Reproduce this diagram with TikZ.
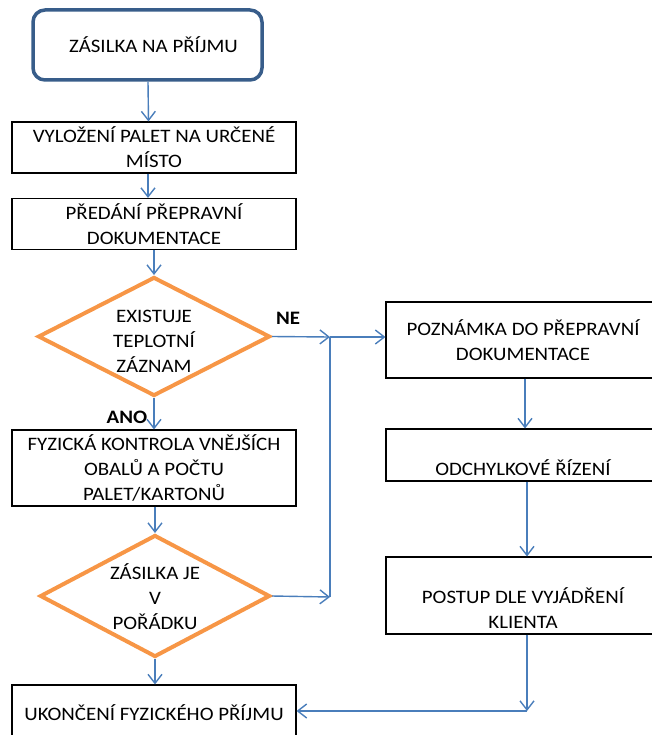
\documentclass[tikz,border=0pt]{standalone}
\usepackage{fontspec}
\setmainfont[FakeStretch=1.1]{Carlito}
\usetikzlibrary{arrows.meta,positioning,shapes.geometric}

\definecolor{flowblue}{HTML}{4A7EBB}
\definecolor{startblue}{HTML}{385D8A}
\definecolor{decorange}{HTML}{F79646}

\begin{document}
\begin{tikzpicture}[
    x=1pt, y=-1pt,
    font=\fontsize{19}{25}\selectfont,
    startbox/.style={draw=startblue, line width=3.5pt, rounded corners=12pt, minimum width=229pt, minimum height=70pt},
    box/.style={draw, rectangle, line width=1.1pt, minimum width=284pt, align=center, inner sep=0pt},
    sidebox/.style={draw, rectangle, line width=1.1pt, minimum width=274pt, align=center, inner sep=0pt},
    decision/.style={draw=decorange, diamond, line width=4pt, inner sep=0pt},
    flow/.style={draw=flowblue, line width=1.4pt, ->, >={Straight Barb[length=9pt,width=14pt]}},
    answer/.style={font=\fontsize{19}{20}\selectfont\bfseries}
]
    \useasboundingbox (0,0) rectangle (651,735);

    % Start
    \node[startbox] (start) at (147.5,45) {\hspace{12pt}ZÁSILKA NA PŘÍJMU};

    % Left column
    \node[box, minimum height=51pt] (unload) at (154,147.5) {VYLOŽENÍ PALET NA URČENÉ\\MÍSTO};
    \node[box, minimum height=51pt] (handover) at (154,224) {PŘEDÁNÍ PŘEPRAVNÍ\\DOKUMENTACE};
    \node[decision, minimum width=232pt, minimum height=119pt] (temp) at (154,336.5) {};
    \node[align=center] (temptext) at (154,341) {EXISTUJE\\TEPLOTNÍ\\ZÁZNAM};
    \node[box, minimum height=76pt] (check) at (154,468) {FYZICKÁ KONTROLA VNĚJŠÍCH\\OBALŮ A POČTU\\PALET/KARTONŮ};
    \node[decision, minimum width=230pt, minimum height=122pt] (ok) at (155,596) {};
    \node[align=center] (oktext) at (155,597) {ZÁSILKA JE\\V\\POŘÁDKU};
    \node[box, minimum height=56pt] (finish) at (154,713) {UKONČENÍ FYZICKÉHO PŘÍJMU};

    % Right column
    \node[sidebox, minimum height=76pt] (note) at (523,340) {POZNÁMKA DO PŘEPRAVNÍ\\DOKUMENTACE};
    \node[sidebox, minimum height=52pt] (deviation) at (523,455) {\mbox{}\\[16pt]ODCHYLKOVÉ ŘÍZENÍ};
    \node[sidebox, minimum height=77pt] (client) at (523,595.5) {\mbox{}\\[16pt]POSTUP DLE VYJÁDŘENÍ\\KLIENTA};

    % Junctions
    \coordinate (j1) at (330,337);
    \coordinate (j2) at (330,597);
    \coordinate (j3) at (527,711);

    % Main flow
    \draw[flow] ([xshift=0.5pt]start.south) -- ([xshift=-5.5pt]unload.north);
    \draw[flow] ([xshift=-6pt]unload.south) -- ([xshift=-6pt]handover.north);
    \draw[flow] (handover.south) -- (temp.north);
    \draw[flow] (temp.south) -- (check.north);
    \draw[flow] ([xshift=1pt]check.south) -- (ok.north);
    \draw[flow] (ok.south) -- ([xshift=1pt]finish.north);

    % Branches
    \draw[flow] (temp.east) -- (j1);
    \draw[flow] (ok.east) -- (j2);
    \draw[draw=flowblue, line width=1.4pt] (j2) -- (j1);
    \draw[flow] (j1) -- (j1 -| note.west);
    \draw[flow] ([xshift=2pt]note.south) -- ([xshift=2pt]deviation.north);
    \draw[flow] ([xshift=4pt]deviation.south) -- ([xshift=4pt]client.north);
    \draw[flow] ([xshift=4pt]client.south) -- (j3);
    \draw[flow] (j3) -- (j3 -| finish.east);

    % Labels
    \node[answer] (no) at (288,318) {NE};
    \node[answer] (yes) at (127,417) {ANO};
\end{tikzpicture}
\end{document}
